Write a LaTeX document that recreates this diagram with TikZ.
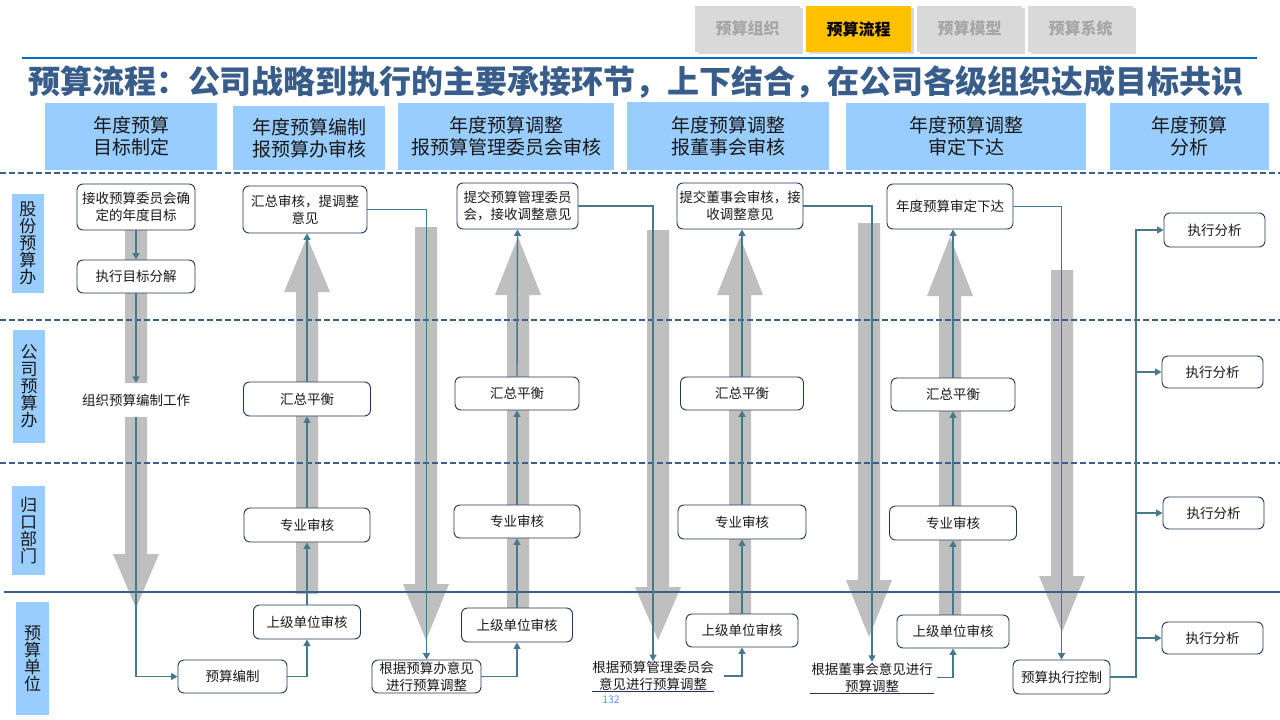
\documentclass[tikz,border=0pt]{standalone}
\usepackage{fontspec}
\setmainfont{Noto Sans CJK SC}
\usetikzlibrary{arrows.meta}
\definecolor{lanec}{RGB}{59,94,140}
\definecolor{hdrc}{RGB}{153,204,255}
\definecolor{conc}{RGB}{68,122,140}
\definecolor{grc}{RGB}{191,191,191}
\definecolor{boxc}{RGB}{31,56,90}
\definecolor{titc}{RGB}{56,93,138}
\definecolor{tabg}{RGB}{217,217,217}
\definecolor{tabt}{RGB}{166,166,166}
\definecolor{taby}{RGB}{255,192,0}
\definecolor{topln}{RGB}{0,112,192}
\definecolor{pgc}{RGB}{100,149,237}
\definecolor{txtc}{RGB}{25,25,25}
\tikzset{
 proc/.style={draw=boxc, line width=0.9pt, rounded corners=6pt, fill=white, align=center, inner sep=0pt, text=txtc, font=\fontsize{13.5}{17}\selectfont},
 plain/.style={align=center, inner sep=0pt, text=txtc, font=\fontsize{13.5}{17}\selectfont},
 hdr/.style={fill=hdrc, align=center, inner sep=0pt, text=txtc, font=\fontsize{19}{22}\selectfont},
 lanelab/.style={fill=hdrc, align=center, inner sep=0pt, text=txtc, font=\fontsize{17}{17}\selectfont},
 conn/.style={draw=conc, line width=1.4pt, -{Triangle[length=6.5pt,width=7pt]}},
 dashln/.style={draw=lanec, line width=1.8pt, dash pattern=on 6pt off 3pt},
 tabbox/.style={minimum width=105pt, minimum height=46pt, inner sep=0pt, font=\fontsize{16}{16}\selectfont\bfseries},
}
\newcommand{\bigarr}[4]{\fill[grc] ({#1-11},#2) -- ({#1+11},#2) -- ({#1+11},#3) -- ({#1+23},#3) -- (#1,#4) -- ({#1-23},#3) -- ({#1-11},#3) -- cycle;}
\begin{document}
\begin{tikzpicture}[x=1pt,y=-1pt]
\fill[white] (0,0) rectangle (1280,720);
\useasboundingbox (0,0) rectangle (1280,720);

% tabs
\foreach \x in {698,809,920,1031}{\fill[black,opacity=0.15] (\x,8) rectangle ({\x+105},54);}
\node[tabbox, fill=tabg, text=tabt] (tab1) at (747.5,28.5) {预算组织};
\node[tabbox, fill=taby, text=black] (tab2) at (858.5,29) {预算流程};
\node[tabbox, fill=tabg, text=tabt] (tab3) at (969.5,28.5) {预算模型};
\node[tabbox, fill=tabg, text=tabt] (tab4) at (1080.5,28.5) {预算系统};
\draw[topln, line width=1.3pt] (22,58) -- (1257,58);

% title
\node[font=\fontsize{32}{33}\selectfont\bfseries, text=titc, inner sep=0pt] (title) at (636,82) {预算流程：公司战略到执行的主要承接环节，上下结合，在公司各级组织达成目标共识};

% headers
\node[hdr, minimum width=172pt, minimum height=67pt] (h1) at (131,136.5) {年度预算\\目标制定};
\node[hdr, minimum width=152pt, minimum height=64pt] (h2) at (309,138) {年度预算编制\\报预算办审核};
\node[hdr, minimum width=216pt, minimum height=67pt] (h3) at (506,136.5) {年度预算调整\\报预算管理委员会审核};
\node[hdr, minimum width=202pt, minimum height=68pt] (h4) at (728,136) {年度预算调整\\报董事会审核};
\node[hdr, minimum width=240pt, minimum height=67pt] (h5) at (966,136.5) {年度预算调整\\审定下达};
\node[hdr, minimum width=159pt, minimum height=67pt] (h6) at (1189.5,136.5) {年度预算\\分析};

% big gray arrows
\bigarr{136}{230}{554}{608}
\bigarr{307}{594}{292}{237}
\bigarr{426}{227}{584}{640}
\bigarr{518}{608}{295}{237}
\bigarr{658}{230}{587}{640}
\bigarr{740}{614}{295}{237}
\bigarr{869}{223}{580}{637}
\bigarr{950}{615}{296}{237}
\bigarr{1062}{270}{576}{632}

% lane lines
\draw[dashln] (0,173) -- (1280,173);
\draw[dashln] (0,320) -- (1280,320);
\draw[dashln] (0,463) -- (1280,463);
\draw[lanec, line width=1.8pt] (4,592) -- (1280,592);

% lane labels
\node[lanelab, minimum width=32pt, minimum height=99pt] (l1) at (28,243.5) {股\\份\\预\\算\\办};
\node[lanelab, minimum width=32pt, minimum height=113pt] (l2) at (29,386.5) {公\\司\\预\\算\\办};
\node[lanelab, minimum width=33pt, minimum height=89pt] (l3) at (28.5,530.5) {归\\口\\部\\门};
\node[lanelab, minimum width=33pt, minimum height=113pt] (l4) at (32.5,658.5) {预\\算\\单\\位};

% column 1
\node[proc, minimum width=118pt, minimum height=46pt] (n11) at (136,207) {接收预算委员会确\\定的年度目标};
\node[proc, minimum width=118pt, minimum height=33pt] (n12) at (136,276.5) {执行目标分解};
\node[plain, fill=white, minimum width=112pt, minimum height=34pt] (t13) at (136,400) {组织预算编制工作};

% column 2
\node[proc, minimum width=124pt, minimum height=47pt] (n21) at (305,209.5) {汇总审核，提调整\\意见};
\node[proc, minimum width=127pt, minimum height=34pt] (n22) at (307,399) {汇总平衡};
\node[proc, minimum width=126pt, minimum height=34pt] (n23) at (307,525) {专业审核};
\node[proc, minimum width=107pt, minimum height=34pt] (n24) at (307,622) {上级单位审核};
\node[proc, minimum width=109pt, minimum height=33pt] (n25) at (232.5,676.5) {预算编制};

% column 3
\node[proc, minimum width=109pt, minimum height=33pt] (n31) at (426.5,676.5) {根据预算办意见\\进行预算调整};

% column 4
\node[proc, minimum width=121pt, minimum height=46pt] (n41) at (517.5,206) {提交预算管理委员\\会，接收调整意见};
\node[proc, minimum width=124pt, minimum height=33pt] (n42) at (517,393.5) {汇总平衡};
\node[proc, minimum width=126pt, minimum height=33pt] (n43) at (517,521.5) {专业审核};
\node[proc, minimum width=111pt, minimum height=34pt] (n44) at (517,625) {上级单位审核};

% column 5
\node[plain, minimum width=116pt, minimum height=28pt] (n51) at (653,676) {根据预算管理委员会\\意见进行预算调整};
\draw[boxc, line width=0.8pt] (n51.south west) -- (n51.south east);

% column 6
\node[proc, minimum width=126pt, minimum height=46pt] (n61) at (740,206) {提交董事会审核，接\\收调整意见};
\node[proc, minimum width=123pt, minimum height=33pt] (n62) at (742,393.5) {汇总平衡};
\node[proc, minimum width=128pt, minimum height=34pt] (n63) at (742,522) {专业审核};
\node[proc, minimum width=112pt, minimum height=33pt] (n64) at (742,630.5) {上级单位审核};

% column 7
\node[plain, minimum width=124pt, minimum height=31pt] (n71) at (872,677.5) {根据董事会意见进行\\预算调整};
\draw[boxc, line width=0.8pt] (n71.south west) -- (n71.south east);

% column 8
\node[proc, minimum width=126pt, minimum height=45pt] (n81) at (950,206.5) {年度预算审定下达};
\node[proc, minimum width=124pt, minimum height=33pt] (n82) at (953,394.5) {汇总平衡};
\node[proc, minimum width=127pt, minimum height=34pt] (n83) at (953,523) {专业审核};
\node[proc, minimum width=112pt, minimum height=33pt] (n84) at (953,631.5) {上级单位审核};

% column 9
\node[proc, minimum width=97pt, minimum height=34pt] (n91) at (1061.5,677) {预算执行控制};

% analysis
\node[proc, minimum width=101pt, minimum height=34pt] (e1) at (1214.5,230) {执行分析};
\node[proc, minimum width=101pt, minimum height=32pt] (e2) at (1212.5,372) {执行分析};
\node[proc, minimum width=101pt, minimum height=32pt] (e3) at (1213.5,513) {执行分析};
\node[proc, minimum width=101pt, minimum height=32pt] (e4) at (1212.5,638) {执行分析};
\coordinate (trk) at (1136,0);

% connectors
\draw[conn] (n11.south) -- (n12.north);
\draw[conn] (n12.south) -- (t13.north);
\draw[conn] (t13.south) |- (n25.west);
\draw[conn] (n25.east) -| (n24.south);
\draw[conn] (n24.north) -- (n23.south);
\draw[conn] (n23.north) -- (n22.south);
\draw[conn] (n22.north) -- (n22.north |- n21.south);
\draw[conn] (n21.east) -| (n31.north);
\draw[conn] (n31.east) -| (n44.south);
\draw[conn] (n44.north) -- (n43.south);
\draw[conn] (n43.north) -- (n42.south);
\draw[conn] (n42.north) -- (n41.south);
\draw[conn] (n41.east) -| (n51.north);
\draw[conn] ([xshift=10pt]n51.east) -| (n64.south);
\draw[conn] (n64.north) -- (n63.south);
\draw[conn] (n63.north) -- (n62.south);
\draw[conn] (n62.north) -- (n62.north |- n61.south);
\draw[conn] (n61.east) -| (n71.north);
\draw[conn] ([xshift=3pt]n71.east) -| (n84.south);
\draw[conn] (n84.north) -- (n83.south);
\draw[conn] (n83.north) -- (n82.south);
\draw[conn] (n82.north) -- (n82.north |- n81.south);
\draw[conn] (n81.east) -| (n91.north);
\draw[conn] (n91.east) -| (trk |- e1.west) -- (e1.west);
\draw[conn] (trk |- e2.west) -- (e2.west);
\draw[conn] (trk |- e3.west) -- (e3.west);
\draw[conn] (trk |- e4.west) -- (e4.west);

% page number
\node[font=\fontsize{10.5}{11}\selectfont, text=pgc, inner sep=0pt] (pg) at (611,700) {132};
\end{tikzpicture}
\end{document}
